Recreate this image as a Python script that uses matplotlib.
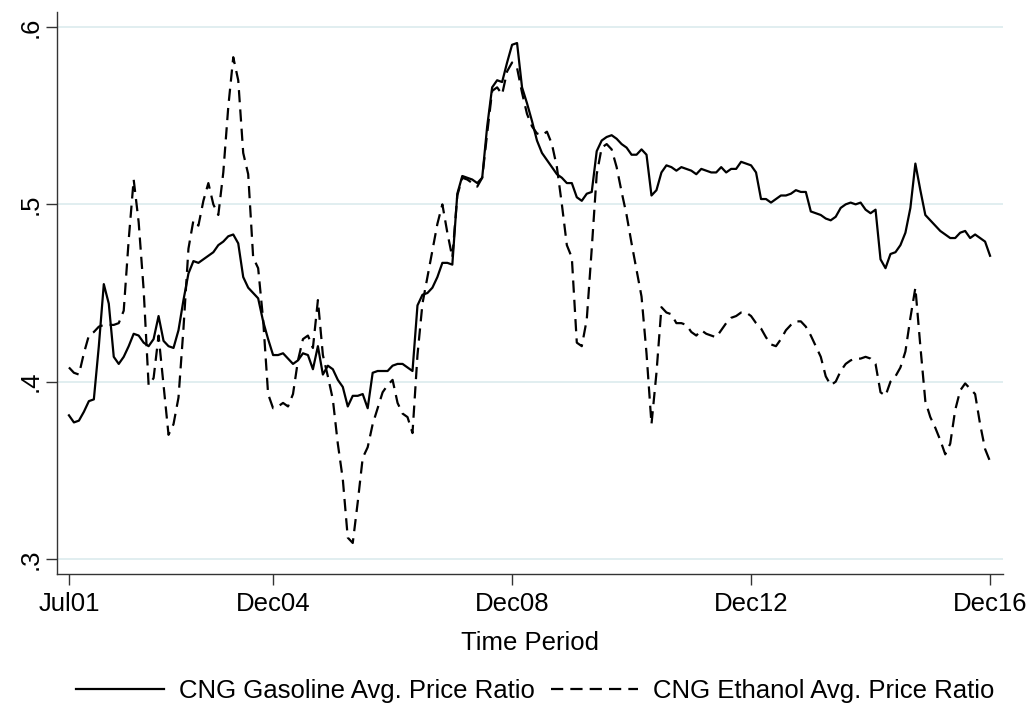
import matplotlib

matplotlib.use("Agg")
import matplotlib.pyplot as plt

# monthly series, Jul 2001 .. Dec 2016
tick_months = [0, 41, 89, 137, 185]
tick_labels = ["Jul01", "Dec04", "Dec08", "Dec12", "Dec16"]

gasoline = [
    0.381, 0.377, 0.378, 0.383, 0.389, 0.390, 0.420, 0.455, 0.444, 0.414,
    0.410, 0.414, 0.420, 0.427, 0.426, 0.422, 0.420, 0.424, 0.437, 0.423,
    0.420, 0.419, 0.429, 0.446, 0.461, 0.468, 0.467, 0.469, 0.471, 0.473,
    0.477, 0.479, 0.482, 0.483, 0.478, 0.459, 0.453, 0.450, 0.447, 0.434,
    0.424, 0.415, 0.415, 0.416, 0.413, 0.410, 0.412, 0.416, 0.415, 0.407,
    0.420, 0.404, 0.409, 0.407, 0.401, 0.397, 0.386, 0.392, 0.392, 0.393,
    0.385, 0.405, 0.406, 0.406, 0.406, 0.409, 0.410, 0.410, 0.408, 0.406,
    0.443, 0.449, 0.450, 0.453, 0.459, 0.467, 0.467, 0.466, 0.506, 0.516,
    0.515, 0.514, 0.512, 0.515, 0.544, 0.566, 0.570, 0.569, 0.580, 0.590,
    0.591, 0.566, 0.557, 0.547, 0.536, 0.529, 0.525, 0.521, 0.517, 0.515,
    0.512, 0.512, 0.504, 0.502, 0.506, 0.507, 0.530, 0.536, 0.538, 0.539,
    0.537, 0.534, 0.532, 0.528, 0.528, 0.531, 0.528, 0.505, 0.508, 0.518,
    0.522, 0.521, 0.519, 0.521, 0.520, 0.519, 0.517, 0.520, 0.519, 0.518,
    0.518, 0.521, 0.518, 0.520, 0.520, 0.524, 0.523, 0.522, 0.518, 0.503,
    0.503, 0.501, 0.503, 0.505, 0.505, 0.506, 0.508, 0.507, 0.507, 0.496,
    0.495, 0.494, 0.492, 0.491, 0.493, 0.498, 0.500, 0.501, 0.500, 0.501,
    0.497, 0.495, 0.497, 0.469, 0.464, 0.472, 0.473, 0.477, 0.484, 0.498,
    0.523, 0.508, 0.494, 0.491, 0.488, 0.485, 0.483, 0.481, 0.481, 0.484,
    0.485, 0.481, 0.483, 0.481, 0.479, 0.471,
]

ethanol = [
    0.408, 0.405, 0.404, 0.416, 0.426, 0.428, 0.431, 0.432, 0.432, 0.432,
    0.433, 0.440, 0.480, 0.514, 0.490, 0.452, 0.398, 0.402, 0.426, 0.398,
    0.370, 0.376, 0.391, 0.430, 0.475, 0.491, 0.488, 0.502, 0.512, 0.500,
    0.494, 0.518, 0.555, 0.583, 0.570, 0.529, 0.517, 0.470, 0.464, 0.435,
    0.393, 0.385, 0.386, 0.388, 0.386, 0.393, 0.412, 0.424, 0.426, 0.419,
    0.446, 0.415, 0.403, 0.390, 0.365, 0.345, 0.312, 0.309, 0.332, 0.357,
    0.363, 0.376, 0.385, 0.394, 0.398, 0.401, 0.388, 0.382, 0.380, 0.371,
    0.415, 0.444, 0.459, 0.474, 0.489, 0.500, 0.484, 0.470, 0.505, 0.515,
    0.514, 0.512, 0.510, 0.515, 0.540, 0.564, 0.566, 0.562, 0.575, 0.580,
    0.577, 0.563, 0.551, 0.544, 0.540, 0.539, 0.541, 0.534, 0.521, 0.500,
    0.477, 0.470, 0.422, 0.420, 0.435, 0.475, 0.517, 0.532, 0.534, 0.531,
    0.521, 0.507, 0.494, 0.478, 0.463, 0.448, 0.416, 0.376, 0.405, 0.442,
    0.439, 0.438, 0.433, 0.433, 0.432, 0.428, 0.426, 0.429, 0.427, 0.426,
    0.425, 0.429, 0.433, 0.436, 0.437, 0.439, 0.439, 0.437, 0.433, 0.430,
    0.425, 0.421, 0.420, 0.424, 0.429, 0.432, 0.434, 0.434, 0.431, 0.426,
    0.420, 0.414, 0.403, 0.398, 0.400, 0.406, 0.410, 0.412, 0.413, 0.413,
    0.414, 0.413, 0.410, 0.394, 0.392, 0.400, 0.403, 0.408, 0.417, 0.436,
    0.453, 0.420, 0.389, 0.380, 0.374, 0.367, 0.359, 0.365, 0.384, 0.395,
    0.399, 0.396, 0.393, 0.376, 0.362, 0.355,
]

y_ticks = [0.3, 0.4, 0.5, 0.6]
y_labels = [".3", ".4", ".5", ".6"]

plt.rcParams["font.family"] = ["Liberation Sans", "DejaVu Sans"]
fs = 18.5

months = list(range(len(gasoline)))

fig = plt.figure(figsize=(10.32, 7.04), dpi=100)
ax = fig.add_axes([57 / 1032, 1 - 574 / 704, (1003 - 57) / 1032, (574 - 12) / 704])

for y in y_ticks:
    ax.axhline(y, color="#e1eef0", lw=1.4, zorder=0)

ax.plot(months, gasoline, color="black", lw=1.6, label="CNG Gasoline Avg. Price Ratio")
ax.plot(months, ethanol, color="black", lw=1.6, dashes=(5.5, 3.2),
        label="CNG Ethanol Avg. Price Ratio")

ax.set_xlim(-2.4, 187.6)
ax.set_ylim(0.2915, 0.6085)
ax.set_xticks(tick_months)
ax.set_xticklabels(tick_labels, fontsize=fs)
ax.set_yticks(y_ticks)
ax.set_yticklabels(y_labels, fontsize=fs, rotation=90, va="center")
ax.tick_params(axis="x", direction="out", length=8, width=1, color="#333333", pad=5)
ax.tick_params(axis="y", direction="out", length=8, width=1, color="#333333", pad=2)
ax.set_xlabel("Time Period", fontsize=fs, labelpad=11)

for side in ("top", "right"):
    ax.spines[side].set_visible(False)
for side in ("left", "bottom"):
    ax.spines[side].set_color("#333333")
    ax.spines[side].set_linewidth(1)

fig.legend(loc="lower center", bbox_to_anchor=(0.519, -0.032), ncol=2, frameon=False,
           fontsize=fs, handlelength=3.4, columnspacing=0.6, handletextpad=0.6)

fig.savefig("out.png", dpi=100)
